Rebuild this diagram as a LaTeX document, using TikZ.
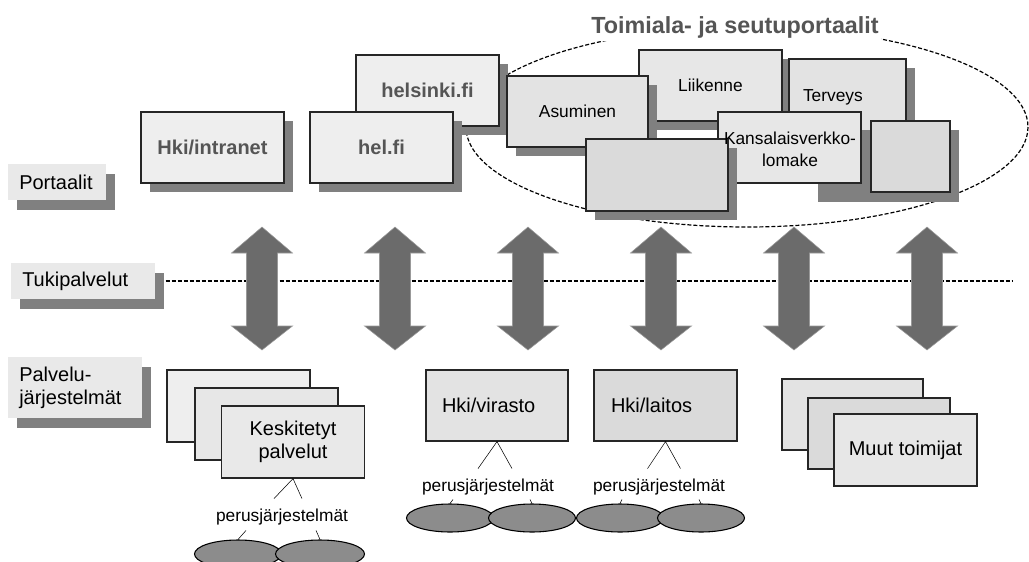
\documentclass[tikz,border=0pt]{standalone}
\usepackage{fontspec}
\setmainfont{Liberation Sans}
\usetikzlibrary{shapes.geometric,shadows}
\definecolor{shade}{HTML}{808080}
\definecolor{arrowgray}{HTML}{6B6B6B}
\definecolor{blobgray}{HTML}{8C8C8C}
\definecolor{headgray}{HTML}{555555}
\definecolor{fillA}{HTML}{EEEEEE}
\definecolor{fillB}{HTML}{E3E3E3}
\definecolor{fillC}{HTML}{DADADA}
\definecolor{tagfill}{HTML}{E9E9E9}
\newcommand\kbig{\fontsize{15}{17.25}\selectfont}
\newcommand\ksmall{\fontsize{13}{16.5}\selectfont}
\newcommand\ktitle{\fontsize{17.5}{21}\selectfont\bfseries}
\tikzset{
  box/.style={draw=black!85,line width=0.9pt,inner sep=0pt,minimum width=107.25pt,minimum height=53.25pt,font=\kbig,fill=fillA},
  shbox/.style={box,drop shadow={shadow xshift=6.75pt,shadow yshift=-6.75pt,opacity=1,fill=shade}},
  tag/.style={fill=tagfill,anchor=west,inner xsep=8.25pt,inner ysep=0pt,align=left,font=\kbig,minimum height=27pt,
    drop shadow={shadow xshift=6.75pt,shadow yshift=-7.5pt,opacity=1,fill=shade}},
  blob/.style={ellipse,draw,line width=0.8pt,fill=blobgray,minimum width=65.25pt,minimum height=21pt,inner sep=0pt},
  pj/.style={font=\ksmall,inner sep=0pt},
  bigarrow/.style={fill=arrowgray,draw=gray!80,line width=0.4pt},
  dots/.style={line width=1pt,dash pattern=on 3pt off 1.5pt}
}
\begin{document}
\begin{tikzpicture}[x=0.75pt,y=-0.75pt]
\useasboundingbox (0,0) rectangle (1029,561);
% left column
\node[tag,text width=57pt] (portaalit) at (8,182) {Portaalit};
\node[tag,text width=91.5pt] (tuki) at (11,281) {Tukipalvelut};
\node[tag,text width=84pt,minimum height=45.75pt] (palvelu) at (8,387.5) {Palvelu-\\järjestelmät};
% portals
\draw[dots,line width=0.9pt] (747,127) ellipse [x radius=281,y radius=100];
\node[fill=white,font=\ktitle,text=headgray,inner sep=2pt] (ttl) at (735,27) {Toimiala- ja seutuportaalit};
\node[shbox,font=\kbig\bfseries,text=headgray] (intranet) at (212.5,147.5) {Hki/intranet};
\node[shbox,font=\kbig\bfseries,text=headgray] (helsinki) at (427.5,90.5) {helsinki.fi};
\node[shbox,font=\kbig\bfseries,text=headgray] (helfi) at (381.5,147.5) {hel.fi};
\node[shbox,font=\ksmall,fill=fillA!97!black] (liikenne) at (710.5,85.5) {Liikenne};
\node[shbox,font=\ksmall,fill=fillB,minimum width=105.75pt] (asuminen) at (577.5,111.5) {Asuminen};
\node[shbox,font=\ksmall,fill=fillB,minimum width=87.75pt,minimum height=57pt,inner xsep=10.5pt,text width=66.75pt,align=left] (terveys) at (847.5,97) {Terveys};
\node[fill=shade,inner sep=0pt,minimum width=105.75pt,minimum height=54pt] (varjo) at (888.5,166) {};
\node[box,fill=fillC,minimum width=59.25pt] (pieni) at (910.5,156.5) {};
\node[box,fill=fillA!97!black] (kansa) at (789.5,147.5) {};
\node[shbox,fill=fillC,minimum width=106.5pt,minimum height=54pt] (tyhja) at (657,175) {};
\node[pj,align=center] (kansa-txt) at (790,149) {Kansalaisverkko-\\lomake};
% support layer
\coordinate (tuki-end) at (1013,281);
\draw[dots] ([xshift=7.5pt]tuki.east) -- (tuki-end);
\foreach \ax in {262,395,528,661,794,927}
  \filldraw[bigarrow] (\ax,227) -- ++(30.5,26) -- ++(-15,0) -- ++(0,73) -- ++(15,0) -- ++(-30.5,24) -- ++(-30.5,-24) -- ++(15,0) -- ++(0,-73) -- ++(-15,0) -- cycle;
% service systems
\node[box,minimum height=54pt] (kp1) at (238.5,406) {};
\node[box,minimum height=54pt,fill=fillA!97!black] (kp2) at (266.5,424) {};
\node[box,minimum height=54pt,fill=fillA!98!black,align=center] (kp3) at (293,442) {Keskitetyt\\palvelut};
\draw (kp3.south) ++(-19,20) -- (kp3.south) -- ++(9,20);
\node[pj] (pj1) at (282,517) {perusjärjestelmät};
\node[blob] (b1) at (238,554) {};
\node[blob,minimum width=66.75pt] (b2) at (320,554) {};
\draw (b1.north) -- ++(8,-9);
\draw (b2.north) -- ++(-4,-9);
\node[box,fill=fillB,minimum width=106.5pt,inner xsep=12pt,text width=82.5pt,align=left] (virasto) at (497,405.5) {Hki/virasto};
\draw (virasto.south) ++(-19,27) -- (virasto.south) -- ++(15,27);
\node[pj] (pj2) at (488,487) {perusjärjestelmät};
\node[blob] (b3) at (450,518) {};
\node[blob] (b4) at (532,518) {};
\draw (b3.north) -- ++(3,-4);
\draw (b4.north) -- ++(-2,-4);
\node[box,fill=fillC,inner xsep=12.75pt,text width=81.75pt,align=left] (laitos) at (665.5,405.5) {Hki/laitos};
\draw (laitos.south) ++(-18,27) -- (laitos.south) -- ++(15,27);
\node[pj] (pj3) at (659,487) {perusjärjestelmät};
\node[blob] (b5) at (620,518) {};
\node[blob] (b6) at (701,518) {};
\draw (b5.north) -- ++(2,-4);
\draw (b6.north) -- ++(-2,-4);
\node[box,fill=fillB,minimum width=105.75pt] (muut1) at (852.5,414.5) {};
\node[box,fill=fillC,minimum width=106.5pt] (muut2) at (879,433.5) {};
\node[box,fill=fillA!97!black,minimum height=54pt] (muut3) at (905.5,450) {Muut toimijat};
\end{tikzpicture}
\end{document}
